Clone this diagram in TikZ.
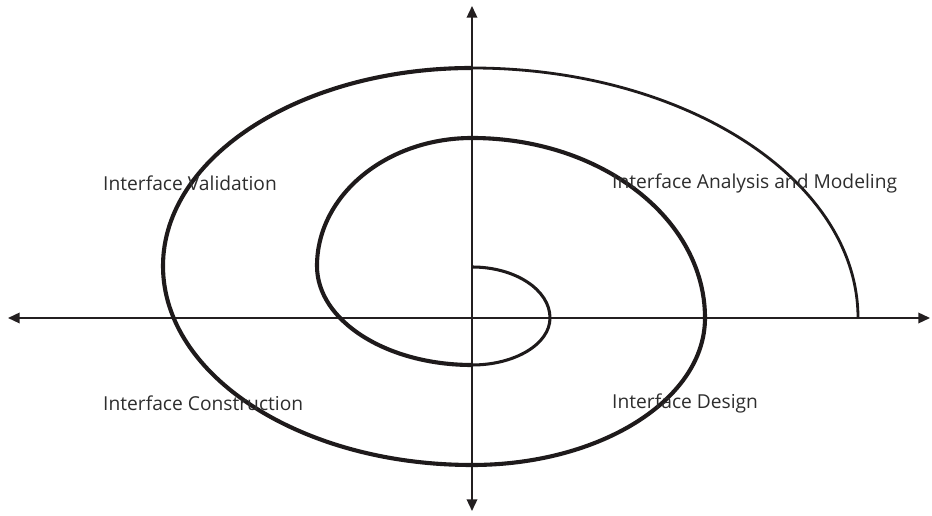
\documentclass[tikz,border=0pt]{standalone}
\usepackage{fontspec}
\setmainfont{Open Sans}
\usepackage{xcolor}
\usetikzlibrary{arrows.meta}
\definecolor{axiscolor}{RGB}{35, 31, 32}
\definecolor{spiralcolor}{RGB}{30, 26, 27}
\definecolor{labelcolor}{RGB}{45, 45, 45}
\tikzset{
  axis/.style={axiscolor,line width=1.6pt,-{Triangle[length=10pt,width=9pt]}},
  phase/.style={anchor=west,inner sep=0pt,font=\fontsize{16.4}{19}\selectfont\color{labelcolor}}
}

\begin{document}
\begin{tikzpicture}[x=0.03cm,y=0.03cm]
        \useasboundingbox (0,0) rectangle (932,516);
        % Axes
        \coordinate (origin) at (472,198);
        \coordinate (left) at (8,198);
        \coordinate (right) at (930,198);
        \coordinate (top) at (472,510);
        \coordinate (bottom) at (472,5);
        \draw[axis] (origin) -- (left);
        \draw[axis] (origin) -- (right);
        \draw[axis] (origin) -- (top);
        \draw[axis] (origin) -- (bottom);
        % Spiral, quarter by quarter
        \coordinate (start) at (472,249);
        \draw[spiralcolor,line width=2.6pt] (start)
            arc[start angle=90,end angle=0,x radius=78,y radius=51]
            arc[start angle=0,end angle=-90,x radius=78,y radius=47] coordinate (s2);
        \draw[spiralcolor,line width=3.5pt] (s2)
            arc[start angle=270,end angle=180,x radius=155,y radius=99]
            arc[start angle=180,end angle=90,x radius=155,y radius=128]
            arc[start angle=90,end angle=0,x radius=233,y radius=180]
            arc[start angle=0,end angle=-90,x radius=233,y radius=147]
            arc[start angle=270,end angle=180,x radius=309,y radius=199]
            arc[start angle=180,end angle=90,x radius=309,y radius=198] coordinate (s8);
        \draw[spiralcolor,line width=2.4pt] (s8)
            arc[start angle=90,end angle=0,x radius=386,y radius=250] coordinate (end);
        % Phase labels
        \node[phase] (validation) at (103,333) {Interface Validation};
        \node[phase] (analysis) at (612,333) {Interface Analysis and Modeling};
        \node[phase] (construction) at (103,113) {Interface Construction};
        \node[phase] (design) at (612,113) {Interface Design};
    \end{tikzpicture}
\end{document}
